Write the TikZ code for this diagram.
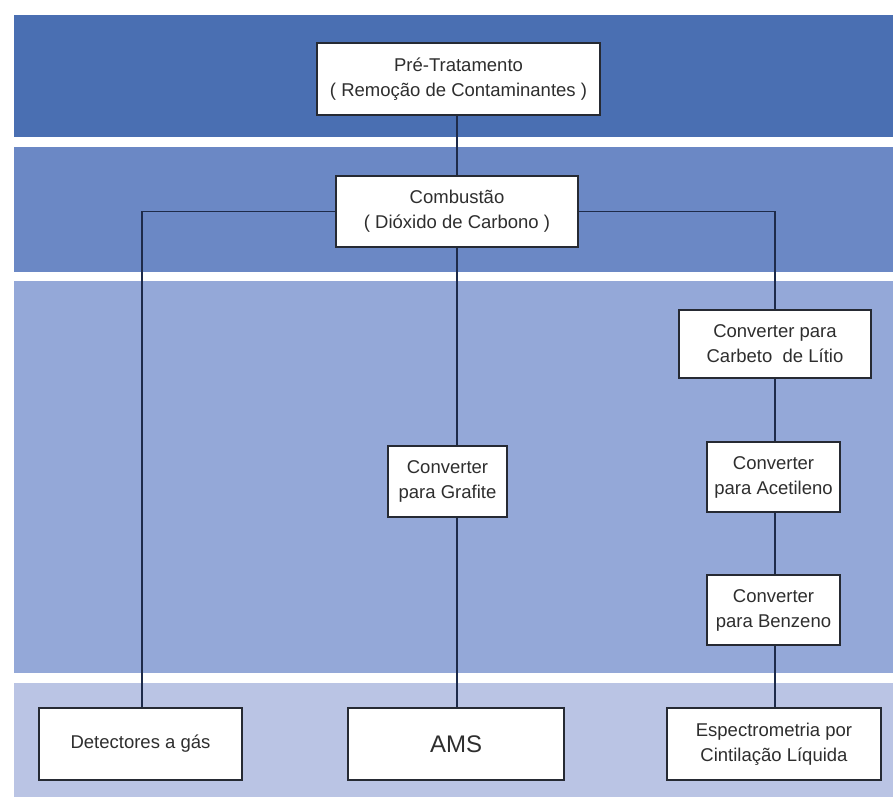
\documentclass[tikz,border=0pt]{standalone}
\usepackage{fontspec}
\setmainfont{Liberation Sans}
\definecolor{bandA}{HTML}{4A6FB2}
\definecolor{bandB}{HTML}{6B88C5}
\definecolor{bandC}{HTML}{94A8D8}
\definecolor{bandD}{HTML}{BAC4E4}
\definecolor{boxline}{HTML}{262A33}
\definecolor{connline}{HTML}{1E2B4A}
\definecolor{txt}{HTML}{2E2E2E}
\begin{document}
\begin{tikzpicture}[x=1pt,y=-1pt,
  band/.style={fill=#1, draw=none},
  box/.style={draw=boxline, line width=1.4pt, fill=white, align=center,
    inner sep=0pt, text=txt, font=\fontsize{18.5}{25}\selectfont},
  conn/.style={draw=connline, line width=1.4pt}]
\useasboundingbox[fill=white] (0,0) rectangle (893,799);
% bands
\fill[band=bandA] (14,15) rectangle (893,137);
\fill[band=bandB] (14,147) rectangle (893,272);
\fill[band=bandC] (14,281) rectangle (893,673);
\fill[band=bandD] (14,683) rectangle (893,797);
% boxes
\node[box, minimum width=283pt, minimum height=72pt] (pre) at (458.5,79)
  {Pré-Tratamento\\( Remoção de Contaminantes )};
\node[box, minimum width=242pt, minimum height=71pt] (comb) at (457,211.5)
  {Combustão\\( Dióxido de Carbono )};
\node[box, minimum width=192pt, minimum height=68pt] (carb) at (775,344)
  {Converter para\\Carbeto\ \ de Lítio};
\node[box, minimum width=133pt, minimum height=70pt] (acet) at (773.5,477)
  {Converter\\para Acetileno};
\node[box, minimum width=133pt, minimum height=70pt] (benz) at (773.5,610)
  {Converter\\para Benzeno};
\node[box, minimum width=119pt, minimum height=71pt] (graf) at (447.5,481.5)
  {Converter\\para Grafite};
\node[box, minimum width=203pt, minimum height=72pt] (det) at (140.5,744)
  {Detectores a gás};
\node[box, minimum width=216pt, minimum height=72pt,
  font=\fontsize{24}{28}\selectfont] (ams) at (456,744) {AMS};
\node[box, minimum width=214pt, minimum height=72pt] (esp) at (774,744)
  {Espectrometria por\\Cintilação Líquida};
% column coordinates
\coordinate (cm) at (457,0);
\coordinate (cl) at (142,211.5);
\coordinate (cr) at (775,211.5);
% connectors
\draw[conn] (pre.south -| cm) -- (comb.north -| cm);
\draw[conn] (comb.west) -- (cl) -- (det.north -| cl);
\draw[conn] (comb.east) -- (cr) -- (carb.north -| cr);
\draw[conn] (comb.south -| cm) -- (graf.north -| cm);
\draw[conn] (graf.south -| cm) -- (ams.north -| cm);
\draw[conn] (carb.south -| cr) -- (acet.north -| cr);
\draw[conn] (acet.south -| cr) -- (benz.north -| cr);
\draw[conn] (benz.south -| cr) -- (esp.north -| cr);
\end{tikzpicture}
\end{document}
